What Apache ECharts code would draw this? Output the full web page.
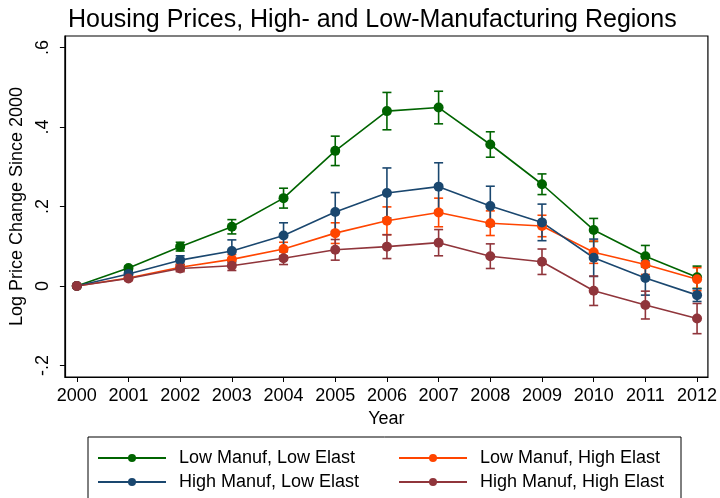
<!DOCTYPE html>
<html>
<head>
<meta charset="utf-8">
<script src="https://cdn.jsdelivr.net/npm/echarts@6/dist/echarts.min.js"></script>
<style>
  html, body { margin: 0; padding: 0; background: #fff; }
  #chart { width: 720px; height: 498px; }
</style>
</head>
<body>
<div id="chart"></div>
<script>
// Years on the x axis
const years = [2000, 2001, 2002, 2003, 2004, 2005, 2006, 2007, 2008, 2009, 2010, 2011, 2012];

// Y axis tick values
const yTicks = [-0.2, 0, 0.2, 0.4, 0.6];

// Log price change since 2000 (point estimates)
const lowManufLowElast   = [0, 0.045, 0.099, 0.149, 0.221, 0.340, 0.440, 0.449, 0.356, 0.256, 0.141, 0.075, 0.022];
const highManufLowElast  = [0, 0.030, 0.065, 0.088, 0.127, 0.186, 0.234, 0.250, 0.201, 0.160, 0.071, 0.020, -0.023];
const lowManufHighElast  = [0, 0.020, 0.047, 0.067, 0.093, 0.133, 0.164, 0.185, 0.158, 0.151, 0.085, 0.054, 0.017];
const highManufHighElast = [0, 0.019, 0.044, 0.051, 0.070, 0.091, 0.099, 0.109, 0.075, 0.061, -0.012, -0.048, -0.082];

// Half-widths of the confidence intervals
const lowManufLowElastErr   = [0, 0.005, 0.011, 0.018, 0.025, 0.037, 0.047, 0.041, 0.032, 0.026, 0.029, 0.027, 0.028];
const highManufLowElastErr  = [0, 0.006, 0.011, 0.028, 0.032, 0.049, 0.063, 0.060, 0.050, 0.046, 0.047, 0.043, 0.016];
const lowManufHighElastErr  = [0, 0.005, 0.008, 0.012, 0.017, 0.026, 0.035, 0.036, 0.031, 0.027, 0.028, 0.025, 0.029];
const highManufHighElastErr = [0, 0.005, 0.008, 0.012, 0.016, 0.026, 0.030, 0.033, 0.031, 0.032, 0.037, 0.035, 0.038];

const groups = [
  { name: 'Low Manuf, Low Elast',   color: '#006400', values: lowManufLowElast,   err: lowManufLowElastErr },
  { name: 'Low Manuf, High Elast',  color: '#ff4500', values: lowManufHighElast,  err: lowManufHighElastErr },
  { name: 'High Manuf, Low Elast',  color: '#1a476f', values: highManufLowElast,  err: highManufLowElastErr },
  { name: 'High Manuf, High Elast', color: '#90353b', values: highManufHighElast, err: highManufHighElastErr }
];

const FONT = 'Liberation Sans, Arial, sans-serif';
const NARROW = 'Liberation Sans Narrow, Arial Narrow, Liberation Sans, sans-serif';

// Vertical capped error bar
function errorBarRenderer(color) {
  return function (params, api) {
    const x = api.value(0);
    const lo = api.coord([x, api.value(1)]);
    const hi = api.coord([x, api.value(2)]);
    const cap = 4.5;
    const style = { stroke: color, lineWidth: 1.6 };
    return {
      type: 'group',
      children: [
        { type: 'line', shape: { x1: lo[0], y1: lo[1], x2: hi[0], y2: hi[1] }, style },
        { type: 'line', shape: { x1: lo[0] - cap, y1: lo[1], x2: lo[0] + cap, y2: lo[1] }, style },
        { type: 'line', shape: { x1: hi[0] - cap, y1: hi[1], x2: hi[0] + cap, y2: hi[1] }, style }
      ]
    };
  };
}

const series = [];
groups.forEach(g => {
  series.push({
    type: 'custom',
    name: g.name + ' CI',
    renderItem: errorBarRenderer(g.color),
    data: years.map((yr, i) => [yr, g.values[i] - g.err[i], g.values[i] + g.err[i]]),
    encode: { x: 0, y: [1, 2] },
    silent: true,
    z: 2
  });
  series.push({
    type: 'line',
    name: g.name,
    data: years.map((yr, i) => [yr, g.values[i]]),
    symbol: 'circle',
    symbolSize: 10,
    showSymbol: true,
    itemStyle: { color: g.color },
    lineStyle: { color: g.color, width: 1.6 },
    emphasis: { disabled: true },
    animation: false,
    z: 3
  });
});

const legendCommon = {
  orient: 'vertical',
  top: 448,
  height: 60,
  padding: 0,
  itemWidth: 68,
  itemHeight: 10,
  itemGap: 4,
  selectedMode: false,
  textStyle: { fontFamily: FONT, fontSize: 18, color: '#000', lineHeight: 20, padding: [0, 0, 0, 8] }
};

const chart = echarts.init(document.getElementById('chart'), null, { renderer: 'canvas' });
chart.setOption({
  animation: false,
  backgroundColor: '#fff',
  title: {
    text: 'Housing Prices, High- and Low-Manufacturing Regions',
    left: 63,
    top: 3,
    textStyle: { fontFamily: FONT, fontSize: 25, fontWeight: 'normal', color: '#000' }
  },
  grid: { left: 60, right: 12, top: 36, bottom: 121, show: true, borderColor: '#000', borderWidth: 1.2 },
  xAxis: {
    type: 'value',
    min: 1999.77,
    max: 2012.21,
    name: 'Year',
    nameLocation: 'middle',
    nameGap: 32,
    nameTextStyle: { fontFamily: NARROW, fontSize: 18, color: '#000' },
    axisLine: { show: true, onZero: false, lineStyle: { color: '#000', width: 1.2 } },
    axisTick: { show: true, length: 5, lineStyle: { color: '#000' }, customValues: years },
    axisLabel: { fontFamily: NARROW, fontSize: 18, color: '#000', margin: 10, customValues: years, formatter: v => String(Math.round(v)) },
    splitLine: { show: false }
  },
  yAxis: {
    type: 'value',
    min: -0.229,
    max: 0.629,
    name: 'Log Price Change Since 2000',
    nameLocation: 'middle',
    nameGap: 33,
    nameTextStyle: { fontFamily: FONT, fontSize: 18, color: '#000' },
    axisLine: { show: true, lineStyle: { color: '#000', width: 1.2 } },
    axisTick: { show: true, length: 5, lineStyle: { color: '#000' }, customValues: yTicks },
    axisLabel: {
      fontFamily: FONT, fontSize: 18, color: '#000', rotate: 90, margin: 13,
      customValues: yTicks,
      formatter: v => {
        const r = Math.round(v * 10) / 10;
        if (r === 0) return '0';
        return String(r).replace('0.', '.');
      }
    },
    splitLine: { show: false }
  },
  legend: [
    Object.assign({}, legendCommon, { left: 97, data: ['Low Manuf, Low Elast', 'High Manuf, Low Elast'] }),
    Object.assign({}, legendCommon, { left: 398, data: ['Low Manuf, High Elast', 'High Manuf, High Elast'] })
  ],
  graphic: [
    { type: 'rect', shape: { x: 88, y: 437, width: 593, height: 80 }, style: { fill: 'none', stroke: '#000', lineWidth: 1 }, silent: true }
  ],
  series
});
</script>
</body>
</html>
